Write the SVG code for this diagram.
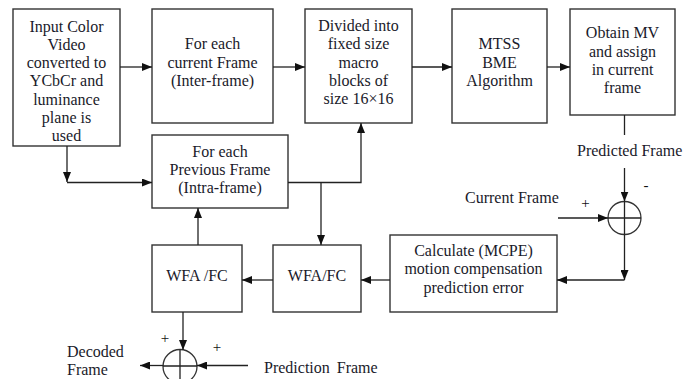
<svg xmlns="http://www.w3.org/2000/svg" width="696" height="379" viewBox="0 0 696 379">
<defs>
<marker id="ah" markerUnits="userSpaceOnUse" markerWidth="10" markerHeight="8" refX="10" refY="4" orient="auto"><path d="M0,0 L10,4 L0,8 z" fill="#111"/></marker>
<style>
.box{fill:#fff;stroke:#333;stroke-width:1.4}
.t{font-family:"Liberation Serif","Times New Roman",serif;font-size:16px;fill:#1a1a2a;text-anchor:middle}
.l{font-family:"Liberation Serif","Times New Roman",serif;font-size:16px;fill:#1a1a2a}
.s{font-family:"Liberation Serif","Times New Roman",serif;font-size:15px;fill:#111;text-anchor:middle}
.c{fill:none;stroke:#333;stroke-width:1.3}
.a{fill:none;stroke:#222;stroke-width:1.3;marker-end:url(#ah)}
.ln{fill:none;stroke:#222;stroke-width:1.3}
</style>
</defs>
<rect width="696" height="379" fill="#fff"/>
<g id="input">
<rect class="box" x="13" y="9" width="107" height="137"/>
<text class="t" x="66.5" y="31.5">Input Color</text>
<text class="t" x="66.5" y="49.8">Video</text>
<text class="t" x="66.5" y="68.1">converted to</text>
<text class="t" x="66.5" y="86.4">YCbCr and</text>
<text class="t" x="66.5" y="104.7">luminance</text>
<text class="t" x="66.5" y="123">plane is</text>
<text class="t" x="66.5" y="141">used</text>
</g>
<g id="current">
<rect class="box" x="152" y="9" width="121" height="114"/>
<text class="t" x="212.5" y="49.3">For each</text>
<text class="t" x="212.5" y="67.7">current Frame</text>
<text class="t" x="212.5" y="86">(Inter-frame)</text>
</g>
<g id="divided">
<rect class="box" x="305" y="9" width="107" height="114"/>
<text class="t" x="358.5" y="31">Divided into</text>
<text class="t" x="358.5" y="49.3">fixed size</text>
<text class="t" x="358.5" y="67.6">macro</text>
<text class="t" x="358.5" y="85.9">blocks of</text>
<text class="t" x="358.5" y="104.2">size 16×16</text>
</g>
<g id="mtss">
<rect class="box" x="452" y="9" width="95" height="114"/>
<text class="t" x="499.5" y="49.3">MTSS</text>
<text class="t" x="499.5" y="67.7">BME</text>
<text class="t" x="499.5" y="86">Algorithm</text>
</g>
<g id="obtain">
<rect class="box" x="570" y="9" width="105" height="106"/>
<text class="t" x="622.5" y="38.3">Obtain MV</text>
<text class="t" x="622.5" y="56.6">and assign</text>
<text class="t" x="622.5" y="74.9">in current</text>
<text class="t" x="622.5" y="93.2">frame</text>
</g>
<g id="previous">
<rect class="box" x="152" y="135" width="136" height="73"/>
<text class="t" x="220" y="156.7">For each</text>
<text class="t" x="220" y="175">Previous Frame</text>
<text class="t" x="220" y="193.3">(Intra-frame)</text>
</g>
<g id="wfa1">
<rect class="box" x="152" y="245" width="90" height="67"/>
<text class="t" x="197" y="281">WFA /FC</text>
</g>
<g id="wfa2">
<rect class="box" x="273" y="245" width="88" height="67"/>
<text class="t" x="317" y="281">WFA/FC</text>
</g>
<g id="mcpe">
<rect class="box" x="390" y="235" width="167" height="77"/>
<text class="t" x="473.5" y="256">Calculate (MCPE)</text>
<text class="t" x="473.5" y="274.3">motion compensation</text>
<text class="t" x="473.5" y="292.6">prediction error</text>
</g>
<g id="sum1">
<circle class="c" cx="624.5" cy="218" r="16.5"/>
<path class="ln" d="M624.5,201.5 V234.5 M608,218 H641"/>
</g>
<g id="sum2">
<circle class="c" cx="180" cy="366.5" r="17"/>
<path class="ln" d="M180,349.5 V383.5 M163,366 H197"/>
</g>
<g id="labels">
<text class="l" x="577" y="156">Predicted Frame</text>
<text class="l" x="465" y="203">Current Frame</text>
<text class="l" x="67" y="357">Decoded</text>
<text class="l" x="67" y="375">Frame</text>
<text class="l" x="264" y="373" word-spacing="3">Prediction Frame</text>
<text class="s" x="585.5" y="208">+</text>
<text class="s" x="646" y="190">-</text>
<text class="s" x="165" y="343">+</text>
<text class="s" x="217" y="352">+</text>
</g>
<g id="connectors">
<path class="a" d="M120,67 H152"/>
<path class="a" d="M273,67 H305"/>
<path class="a" d="M412,67 H452"/>
<path class="a" d="M547,67 H570"/>
<path class="a" d="M67,146 V182"/>
<path class="a" d="M67,182.5 H152"/>
<path class="a" d="M288,182.5 H361 V123"/>
<path class="a" d="M321,182.5 V245"/>
<path class="ln" d="M624.5,115 V135"/>
<path class="a" d="M624.5,168 V201.5"/>
<path class="a" d="M558,218 H608"/>
<path class="a" d="M624.5,234.5 V280"/>
<path class="a" d="M624.5,280 H557"/>
<path class="a" d="M390,280 H361"/>
<path class="a" d="M273,280 H242"/>
<path class="a" d="M198,245 V208"/>
<path class="a" d="M183,312 V350"/>
<path class="a" d="M248,365.5 H197"/>
<path class="a" d="M163,365.5 H140"/>
</g>
</svg>
